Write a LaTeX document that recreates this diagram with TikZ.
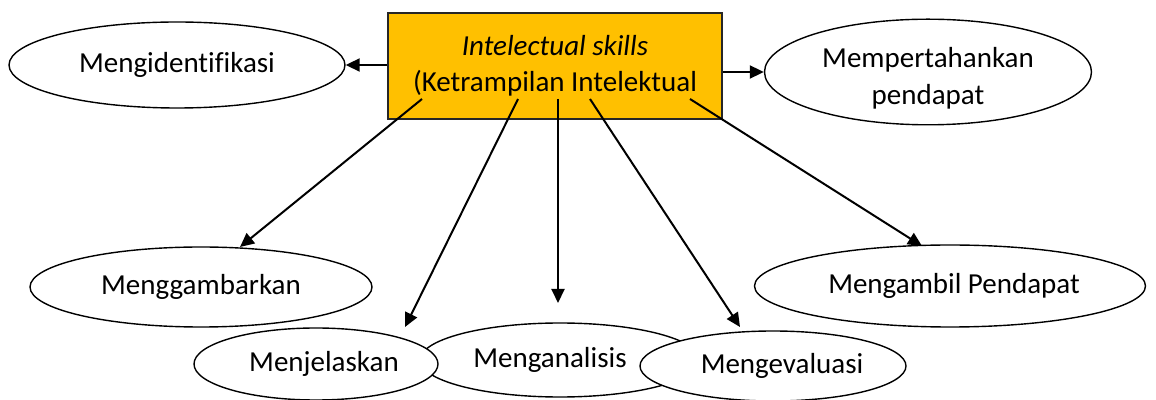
\documentclass[tikz,border=0pt]{standalone}
\usepackage{fontspec}
\setmainfont{Carlito}[Ligatures={NoCommon}]
\usepackage{tikz}
\usetikzlibrary{positioning, shapes.geometric, arrows.meta}
\definecolor{skillorange}{HTML}{FFC000}
\tikzset{
    skillbox/.style={
        rectangle,
        draw=black!85, % border
        fill=skillorange, % orange fill
        line width=1pt,
        minimum width=167pt,
        minimum height=53pt,
        align=center,
        text height=28pt, % push the two lines down a little
        inner sep=0
    },
    ovalnode/.style={
        ellipse,
        draw,
        fill=white,
        line width=0.7pt,
        align=center,
        inner sep=0
    },
    skillarrow/.style={
        line width=1pt,
        -{Triangle[length=7pt,width=6.5pt]}
    }
}

\begin{document}
\begin{tikzpicture}[
                x=0.5pt, y=-0.5pt,
                every node/.style={
                    font=\fontsize{14.5}{18}\selectfont
                }
            ]
            \useasboundingbox (0,0) rectangle (1156,400);
            % centre box
            \node[skillbox] (skill) at (555,66) {\textit{Intelectual skills}\\(Ketrampilan Intelektual};
            % top ovals
            \node[ovalnode, minimum width=168pt, minimum height=43pt] (identifikasi) at (177,65) {Mengidentifikasi};
            \node[ovalnode, minimum width=163.5pt, minimum height=52pt, text height=35pt,
                  font=\fontsize{14.5}{18.5}\selectfont] (pertahankan) at (928,72) {Mempertahankan\\pendapat};
            % middle ovals
            \node[ovalnode, minimum width=171pt, minimum height=40pt] (gambarkan) at (201,287) {Menggambarkan};
            \node[ovalnode, minimum width=195.5pt, minimum height=41pt] (ambil) at (950,286) {\hspace*{4pt}Mengambil Pendapat};
            % bottom ovals
            \node[ovalnode, minimum width=140pt, minimum height=37pt] (analisis) at (560,360) {\hspace*{-10pt}Menganalisis};
            \node[ovalnode, minimum width=122pt, minimum height=36pt] (jelaskan) at (316,364) {\hspace*{8pt}Menjelaskan};
            \node[ovalnode, minimum width=133pt, minimum height=35pt] (evaluasi) at (773,366) {\hspace*{9pt}Mengevaluasi};
            % arrow ends
            \coordinate (s1) at (422,99);
            \coordinate (s2) at (518,99);
            \coordinate (s3) at (558,99);
            \coordinate (s4) at (590,99);
            \coordinate (s5) at (690,99);
            \coordinate (t1) at (240,247);
            \coordinate (t2) at (405,327);
            \coordinate (t3) at (558,303);
            \coordinate (t4) at (740,327);
            \coordinate (t5) at (922,246);
            % arrows
            \draw[skillarrow] (skill.west |- identifikasi.east) -- (identifikasi.east);
            \draw[skillarrow] (skill.east |- pertahankan.west) -- (pertahankan.west);
            \draw[skillarrow] (s1) -- (t1);
            \draw[skillarrow] (s2) -- (t2);
            \draw[skillarrow] (s3) -- (t3);
            \draw[skillarrow] (s4) -- (t4);
            \draw[skillarrow] (s5) -- (t5);
\end{tikzpicture}
\end{document}
